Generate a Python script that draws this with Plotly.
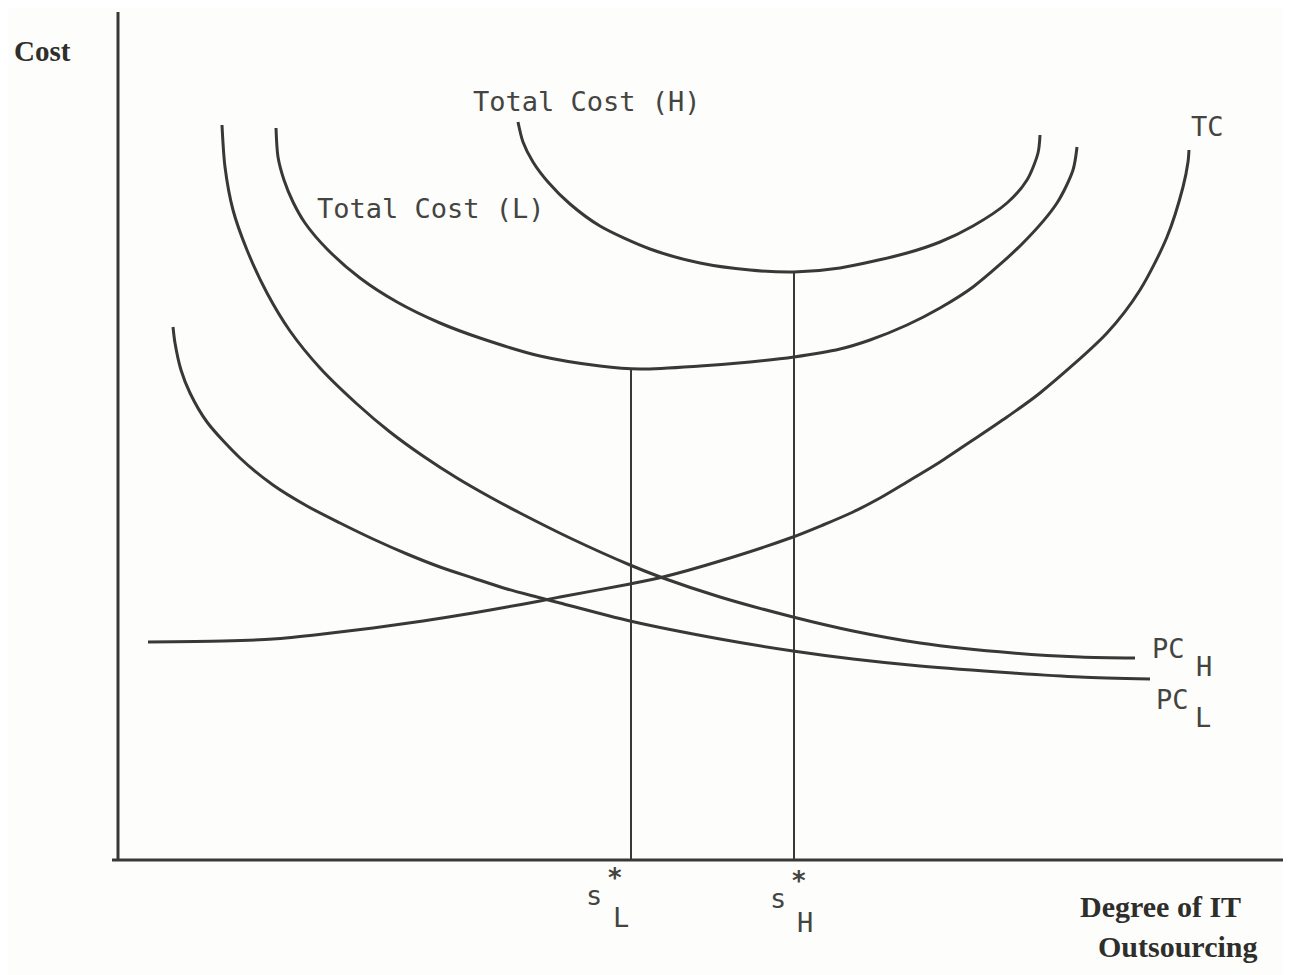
import plotly.graph_objects as go

# ---- data (x = degree of outsourcing, y = cost, y grows downward) ----
tc_h_x = [518, 523, 533, 548, 570, 600, 650, 700, 750, 794, 840, 907, 940, 973, 1007, 1027, 1038, 1040]
tc_h_y = [122, 142, 162, 182, 204, 226, 249, 263, 270, 272, 268, 253, 242, 226, 203, 180, 153, 135]

tc_l_x = [276, 278, 284, 293, 305, 327, 360, 397, 440, 480, 540, 600, 640, 700, 750, 794, 840, 870, 907, 940, 973, 1023, 1057, 1073, 1077]
tc_l_y = [128, 157, 180, 202, 223, 249, 278, 302, 323, 338, 356, 366, 369, 366, 362, 357, 349, 340, 325, 308, 287, 243, 203, 170, 147]

tc_x = [148, 223, 273, 323, 373, 423, 473, 507, 540, 560, 630, 663, 720, 793, 823, 853, 880, 907, 940, 973, 1007, 1040, 1107, 1140, 1167, 1183, 1188, 1189]
tc_y = [642, 641, 639, 634, 628, 621, 613, 607, 601, 597, 584, 577, 561, 537, 525, 512, 498, 482, 462, 440, 417, 393, 333, 290, 237, 187, 162, 150]

pch_x = [222, 225, 233, 247, 267, 290, 320, 357, 390, 423, 457, 490, 520, 570, 630, 663, 720, 793, 853, 920, 1013, 1080, 1135]
pch_y = [125, 167, 210, 250, 293, 331, 368, 404, 432, 456, 478, 497, 513, 538, 565, 578, 597, 617, 631, 643, 653, 657, 658]

pcl_x = [173, 175, 181, 190, 207, 240, 273, 307, 340, 373, 407, 440, 473, 507, 537, 560, 630, 720, 793, 853, 920, 1013, 1080, 1150]
pcl_y = [327, 343, 370, 393, 422, 458, 485, 506, 523, 539, 554, 567, 578, 589, 597, 603, 621, 639, 651, 659, 666, 673, 677, 679]

# optimum outsourcing levels (vertical drop lines)
s_l_x = [631, 631]
s_l_y = [368, 860]
s_h_x = [794, 794]
s_h_y = [272, 860]

# axes
yaxis_x = [118, 118]
yaxis_y = [12, 860]
xaxis_x = [112, 1290]
xaxis_y = [860, 860]

INK = "#383834"
fig = go.Figure()

def line(x, y, w=3, shape="spline"):
    fig.add_trace(go.Scatter(x=x, y=y, mode="lines",
                             line=dict(color=INK, width=w, shape=shape, smoothing=0.8),
                             hoverinfo="skip", showlegend=False))

for xs, ys in [(tc_h_x, tc_h_y), (tc_l_x, tc_l_y), (tc_x, tc_y), (pch_x, pch_y), (pcl_x, pcl_y)]:
    line(xs, ys, 3)
line(s_l_x, s_l_y, 2, "linear")
line(s_h_x, s_h_y, 2, "linear")
line(yaxis_x, yaxis_y, 3, "linear")
line(xaxis_x, xaxis_y, 3, "linear")

MONO = "DejaVu Sans Mono"
SERIF = "Liberation Serif"
TXT = "#444441"

def ann(text, x, y, size=27, family=MONO, color=TXT):
    fig.add_annotation(x=x, y=y, text=text, showarrow=False, xanchor="center", yanchor="middle",
                       font=dict(family=family, size=size, color=color))

ann("Total Cost (H)", 587, 101)
ann("Total Cost (L)", 431, 208)
ann("TC", 1207, 126)
ann("PC", 1168, 648)
ann("H", 1204, 666)
ann("PC", 1172, 699)
ann("L", 1203, 717)
ann("s", 594, 895)
ann("<b>*</b>", 615, 878, 26)
ann("L", 621, 917)
ann("s", 778, 898)
ann("<b>*</b>", 799, 881, 26)
ann("H", 805, 922)
ann("<b>Cost</b>", 42, 51, 29, SERIF, "#2e2e2b")
ann("<b>Degree of IT</b>", 1160, 906, 30, SERIF, "#2e2e2b")
ann("<b>Outsourcing</b>", 1177, 946, 30, SERIF, "#2e2e2b")

fig.update_layout(
    width=1283, height=967,
    margin=dict(l=0, r=0, t=0, b=0),
    paper_bgcolor="#fdfdfb", plot_bgcolor="#fdfdfb",
    xaxis=dict(range=[8, 1291], visible=False, fixedrange=True),
    yaxis=dict(range=[975, 8], visible=False, fixedrange=True),
    showlegend=False,
)
fig.write_html("out.html")
